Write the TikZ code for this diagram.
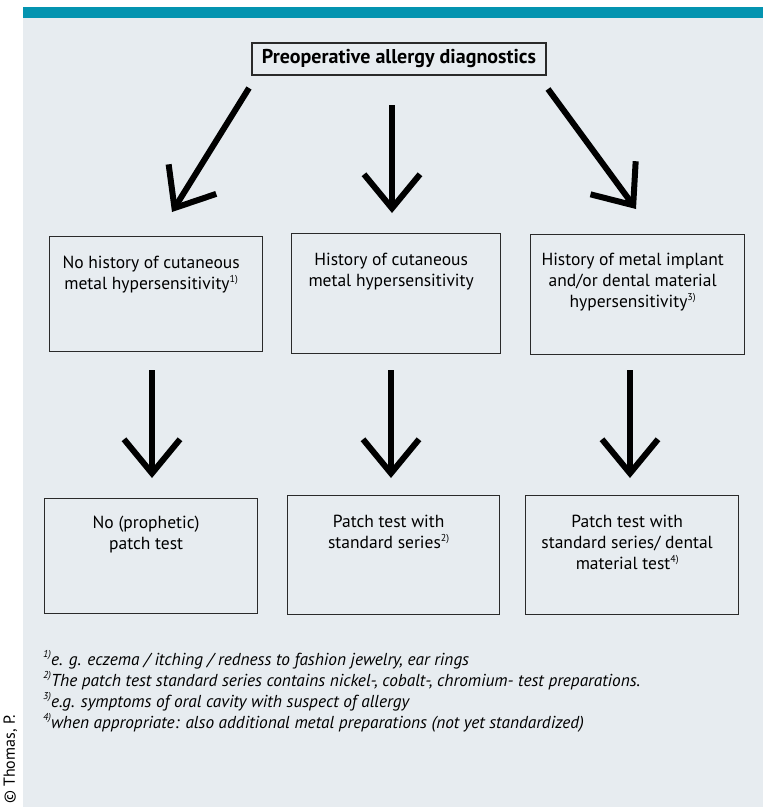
\documentclass[tikz,border=0pt]{standalone}
\usepackage{fontspec}
\setmainfont{PT Sans}
\usetikzlibrary{arrows.meta}
\definecolor{tealbar}{HTML}{0494B0}
\definecolor{panel}{HTML}{E7ECF0}
\definecolor{frame}{HTML}{2A2A2A}
\newcommand{\boxtxt}[4]{\parbox[c][#2][t]{#1}{\centering\advance\rightskip 10pt\relax\rule{0pt}{#3}#4\par}}
\newcommand{\fnmark}[1]{\raisebox{0.42em}{\fontsize{10}{10}\selectfont #1}}
\begin{document}
\begin{tikzpicture}[x=1pt,y=-1pt,
  flowbox/.style={draw=frame, line width=1.3pt, fill=panel, inner sep=0pt, anchor=north west, font=\fontsize{17.5}{21}\selectfont},
  bigarrow/.style={line width=6pt, -{Straight Barb[length=34pt,width=56pt]}},
  note/.style={anchor=base west, inner sep=0pt, font=\fontsize{17.3}{20}\selectfont\itshape}]
\useasboundingbox (0,0) rectangle (763,807);
\fill[white] (0,0) rectangle (763,807);
\fill[panel] (23,18) rectangle (763,807);
\fill[tealbar] (23,7) rectangle (763,18);

\node[flowbox, anchor=center, minimum width=294pt, minimum height=32pt, font=\fontsize{20}{22}\selectfont\bfseries] (top) at (399,59) {Preoperative allergy diagnostics};

\node[flowbox] (m1) at (49,236) {\boxtxt{213pt}{115pt}{32pt}{No history of cutaneous\\ metal hypersensitivity\fnmark{1)}}};
\node[flowbox] (m2) at (291,233) {\boxtxt{209pt}{120pt}{32pt}{History of cutaneous\\ metal hypersensitivity}};
\node[flowbox] (m3) at (530,234) {\boxtxt{214pt}{120pt}{31pt}{History of metal implant\\ and/or dental material\\ hypersensitivity\fnmark{3)}}};

\node[flowbox] (b1) at (44,498) {\boxtxt{213pt}{115pt}{30pt}{No (prophetic)\\ patch test}};
\node[flowbox] (b2) at (287,495) {\boxtxt{212pt}{119pt}{32pt}{Patch test with\\ standard series\fnmark{2)}}};
\node[flowbox] (b3) at (525,495) {\boxtxt{213pt}{119pt}{32pt}{Patch test with\\ standard series/ dental\\ material test\fnmark{4)}}};

\coordinate (a1s) at (249,88);  \coordinate (a1e) at (172,212);
\coordinate (a2s) at (392,105); \coordinate (a2e) at (392,213);
\coordinate (a3s) at (548,89);  \coordinate (a3e) at (636,209);
\coordinate (c1s) at (152,370); \coordinate (c1e) at (152,478);
\coordinate (c2s) at (391,370); \coordinate (c2e) at (391,478);
\coordinate (c3s) at (630,370); \coordinate (c3e) at (630,478);
\draw[bigarrow] (a1s) -- (a1e);
\draw[bigarrow] (a2s) -- (a2e);
\draw[bigarrow] (a3s) -- (a3e);
\draw[bigarrow] (c1s) -- (c1e);
\draw[bigarrow] (c2s) -- (c2e);
\draw[bigarrow] (c3s) -- (c3e);

\node[note] (n1) at (43,665) {\fnmark{1)}e. g. eczema / itching / redness to fashion jewelry, ear rings};
\node[note] (n2) at (43,686) {\fnmark{2)}The patch test standard series contains nickel-, cobalt-, chromium- test preparations.};
\node[note] (n3) at (43,707) {\fnmark{3)}e.g. symptoms of oral cavity with suspect of allergy};
\node[note] (n4) at (43,728) {\fnmark{4)}when appropriate: also additional metal preparations (not yet standardized)};

\node[rotate=90, anchor=base west, inner sep=0pt, font=\fontsize{16}{18}\selectfont] (copy) at (15,804) {© Thomas, P.};
\end{tikzpicture}
\end{document}
